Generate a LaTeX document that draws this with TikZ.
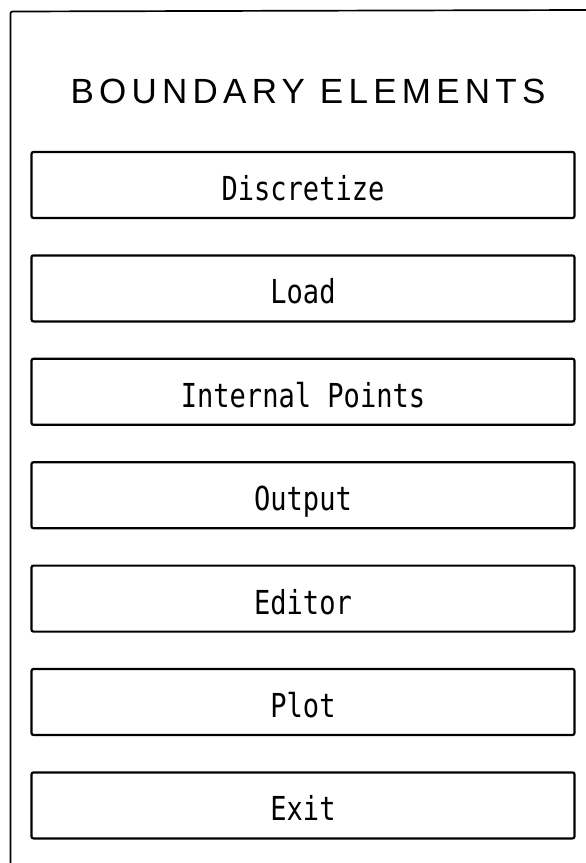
\documentclass[tikz,border=0pt]{standalone}
\usepackage{fontspec}
\newfontfamily\titlefont[LetterSpace=15]{Liberation Sans}
\newfontfamily\btnfont[FakeStretch=0.82]{DejaVu Sans Mono}
\tikzset{
  frameline/.style={line width=1.7pt, black, line cap=round},
  menubtn/.style={draw=black, line width=2.2pt, rounded corners=2pt,
    minimum width=543pt, minimum height=66pt, inner sep=0pt},
  btnlabel/.style={anchor=base, inner sep=0pt,
    font=\btnfont\fontsize{33}{36}\selectfont},
  heading/.style={anchor=base, inner sep=0pt,
    font=\titlefont\fontsize{35}{40}\selectfont}
}
\begin{document}
\begin{tikzpicture}[x=1pt,y=-1pt]
  \useasboundingbox (0,0) rectangle (586,863);
  % outer panel frame, open to the right and bottom
  \draw[frameline, rounded corners=2pt] (10.5,863) -- (10.5,11.5) -- (586,10);
  % heading
  \node[heading] (title) at (308,103) {BOUNDARY ELEMENTS};
  % menu buttons
  \foreach \i/\name/\txt in {0/disc/Discretize, 1/load/Load, 2/intp/Internal Points,
      3/outp/Output, 4/edit/Editor, 5/plot/Plot, 6/exit/Exit} {
    \node[menubtn] (\name) at (303, 185+\i*103.4) {};
    \node[btnlabel] (\name-t) at ([yshift=-15.5pt]\name.center) {\txt};
  }
\end{tikzpicture}
\end{document}
